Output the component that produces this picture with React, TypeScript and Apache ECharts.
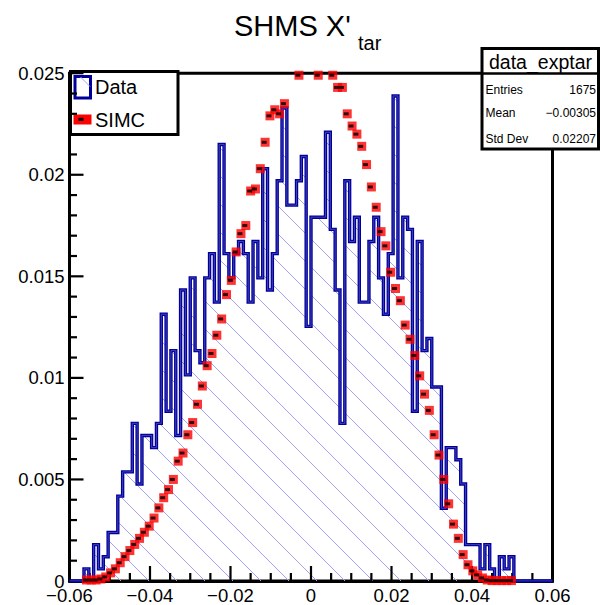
import React, { useEffect, useRef } from "react";
import * as echarts from "echarts";

// ---- axis / binning ----
const X_MIN = -0.06;
const X_MAX = 0.06;
const Y_MAX = 0.025;
const N_BINS = 100;
const ENTRIES = 1675;

// ---- Data histogram: entries per bin (normalised by ENTRIES) ----
const dataCounts = [
  0, 0, 0, 1, 0, 3, 1, 2, 4, 4,
  7, 9, 9, 13, 8, 12, 12, 11, 13, 22,
  14, 19, 12, 24, 17, 25, 19, 18, 25, 27,
  23, 36, 27, 25, 27, 28, 27, 23, 28, 25,
  34, 24, 27, 33, 39, 31, 31, 33, 35, 21,
  30, 30, 30, 37, 29, 24, 13, 33, 28, 30,
  23, 23, 28, 30, 25, 22, 27, 40, 25, 30,
  29, 14, 28, 19, 20, 16, 16, 6, 11, 11,
  10, 8, 3, 3, 3, 1, 3, 1, 0, 2,
  1, 2, 0, 0, 0, 0, 0, 0, 0, 0,
];

// ---- SIMC histogram values per bin (null = no marker) ----
const simcValues: (number | null)[] = [
  null, null, null, 0.00005, 0.00005, 0.00005, 0.0001, 0.0002, 0.0004, 0.0006,
  0.0009, 0.0012, 0.0015, 0.0018, 0.0021, 0.0024, 0.0027, 0.0031, 0.0036, 0.0041,
  0.0045, 0.005, 0.0059, 0.0063, 0.0072, 0.0078, 0.0087, 0.0096, 0.0106, 0.0112,
  0.0121, 0.0129, 0.0141, 0.0148, 0.0162, 0.0171, 0.0175, 0.0192, 0.0193, 0.0203,
  0.0216, 0.0229, 0.0232, 0.023, 0.0235, 0.0254, 0.0256, 0.0249, 0.0257, 0.0258,
  0.0255, 0.0249, 0.0253, 0.0252, 0.0249, 0.0243, 0.0243, 0.023, 0.0224, 0.022,
  0.0214, 0.0205, 0.0194, 0.0184, 0.0172, 0.0165, 0.0152, 0.0144, 0.0138, 0.0126,
  0.0119, 0.0111, 0.0101, 0.0092, 0.0084, 0.0072, 0.0062, 0.005, 0.0038, 0.0028,
  0.0021, 0.0013, 0.0008, 0.0005, 0.0003, 0.00015, 0.00005, 0.00002, 0.00002, 0.00002,
  0.00002, 0.00002, null, null, null, null, null, null, null, null,
];

const xTickValues = [-0.06, -0.04, -0.02, 0, 0.02, 0.04, 0.06];
const yTickValues = [0, 0.005, 0.01, 0.015, 0.02, 0.025];
const X_MINOR_DIV = 4;
const Y_MINOR_DIV = 5;

const statsTitle = "data_exptar";
const statsRows = [
  ["Entries", "1675"],
  ["Mean", "\u22120.00305"],
  ["Std Dev", "0.02207"],
];

const FONT = '"Liberation Sans", Arial, Helvetica, sans-serif';
const HATCH_STEP = 28;
const HATCH_K0 = 68;

const binW = (X_MAX - X_MIN) / N_BINS;
const edge = (i: number) => X_MIN + i * binW;
const center = (i: number) => X_MIN + (i + 0.5) * binW;
const dataValues = dataCounts.map((c) => c / ENTRIES);

function buildStep(): number[][] {
  const pts: number[][] = [[X_MIN, 0]];
  dataValues.forEach((v, i) => {
    pts.push([edge(i), v]);
    pts.push([edge(i + 1), v]);
  });
  pts.push([X_MAX, 0]);
  return pts;
}

function fmtX(v: number) {
  if (Math.abs(v) < 1e-9) return "0";
  return (v < 0 ? "\u2212" : "") + Math.abs(v).toFixed(2);
}
function fmtY(v: number) {
  if (Math.abs(v) < 1e-12) return "0";
  return String(parseFloat(v.toFixed(3)));
}

function hatchRender(_params: any, api: any) {
  const base = api.coord([X_MIN, 0])[1];
  const bins = dataValues.map((v, i) => ({
    v,
    xl: api.coord([edge(i), 0])[0],
    xr: api.coord([edge(i + 1), 0])[0],
    top: api.coord([X_MIN, v])[1],
  }));
  const children: any[] = [];
  for (let n = -25; n <= 25; n++) {
    const k = HATCH_K0 + n * HATCH_STEP;
    let cur: { a: number; b: number } | null = null;
    const flush = () => {
      if (cur) {
        children.push({
          type: "line",
          shape: { x1: cur.a, y1: cur.a + k, x2: cur.b, y2: cur.b + k },
          style: { stroke: "#a3a3f2", lineWidth: 1 },
          silent: true,
        });
        cur = null;
      }
    };
    for (const b of bins) {
      if (b.v <= 0) {
        flush();
        continue;
      }
      const a = Math.max(b.xl, b.top - k);
      const e = Math.min(b.xr, base - k);
      if (a < e) {
        if (cur && Math.abs(cur.b - a) < 0.05) cur.b = e;
        else {
          flush();
          cur = { a, b: e };
        }
      } else flush();
    }
    flush();
  }
  return { type: "group", children };
}

// inward ROOT-style ticks, placed through the axes' scales
function ticksRender(_params: any, api: any) {
  const children: any[] = [];
  const [x0, y0] = api.coord([X_MIN, 0]);
  const tick = (x1: number, y1: number, x2: number, y2: number) =>
    children.push({
      type: "line",
      shape: { x1, y1, x2, y2 },
      style: { stroke: "#000", lineWidth: 2.2 },
      silent: true,
    });
  for (let i = 0; i < xTickValues.length; i++) {
    const v = xTickValues[i];
    const px = api.coord([v, 0])[0];
    tick(px, y0, px, y0 - 15);
    if (i < xTickValues.length - 1) {
      const step = (xTickValues[i + 1] - v) / X_MINOR_DIV;
      for (let m = 1; m < X_MINOR_DIV; m++) {
        const mx = api.coord([v + m * step, 0])[0];
        tick(mx, y0, mx, y0 - 8);
      }
    }
  }
  for (let i = 0; i < yTickValues.length; i++) {
    const v = yTickValues[i];
    const py = api.coord([X_MIN, v])[1];
    tick(x0, py, x0 + 14, py);
    if (i < yTickValues.length - 1) {
      const step = (yTickValues[i + 1] - v) / Y_MINOR_DIV;
      for (let m = 1; m < Y_MINOR_DIV; m++) {
        const my = api.coord([X_MIN, v + m * step])[1];
        tick(x0, my, x0 + 7.5, my);
      }
    }
  }
  return { type: "group", children };
}

export default function App() {
  const ref = useRef<HTMLDivElement>(null);
  useEffect(() => {
    document.body.style.margin = "0";
    const chart = echarts.init(ref.current!, undefined, { renderer: "svg" });
    const step = buildStep();
    const simcPts = simcValues
      .map((v, i) => (v != null && v <= Y_MAX ? [center(i), v] : null))
      .filter((p) => p !== null) as number[][];

    const option: any = {
      animation: false,
      backgroundColor: "#ffffff",
      grid: {
        left: 69.5,
        right: 47.5,
        top: 73.2,
        bottom: 23.3,
        show: true,
        borderColor: "#000",
        borderWidth: 3,
        backgroundColor: "transparent",
      },
      xAxis: {
        type: "value",
        min: xTickValues[0],
        max: xTickValues[xTickValues.length - 1],
        interval: 0.02,
        axisLine: { show: true, onZero: false, lineStyle: { color: "#000", width: 3 } },
        splitLine: { show: false },
        axisTick: { show: false },
        minorTick: { show: false },
        axisLabel: {
          color: "#000",
          fontSize: 18.5,
          fontFamily: FONT,
          margin: 5,
          formatter: fmtX,
          showMinLabel: true,
          showMaxLabel: true,
        },
      },
      yAxis: {
        type: "value",
        min: yTickValues[0],
        max: yTickValues[yTickValues.length - 1],
        interval: 0.005,
        axisLine: { show: true, onZero: false, lineStyle: { color: "#000", width: 3 } },
        splitLine: { show: false },
        axisTick: { show: false },
        minorTick: { show: false },
        axisLabel: {
          color: "#000",
          fontSize: 18.5,
          fontFamily: FONT,
          margin: 5,
          formatter: fmtY,
          showMinLabel: true,
          showMaxLabel: true,
        },
      },
      series: [
        {
          type: "custom",
          name: "hatch",
          coordinateSystem: "cartesian2d",
          data: [[0, 0]],
          renderItem: hatchRender,
          silent: true,
          z: 1,
        },
        {
          type: "custom",
          name: "ticks",
          coordinateSystem: "cartesian2d",
          data: [[0, 0]],
          renderItem: ticksRender,
          silent: true,
          clip: false,
          z: 2,
        },
        {
          type: "line",
          name: "Data",
          data: step,
          symbol: "none",
          showSymbol: false,
          lineStyle: { color: "#000099", width: 3.4, join: "miter" },
          z: 3,
        },
        {
          type: "line",
          name: "Data-inner",
          data: step,
          symbol: "none",
          showSymbol: false,
          lineStyle: { color: "#5050c4", width: 0.8, join: "miter" },
          z: 4,
        },
        {
          type: "scatter",
          name: "SIMC",
          data: simcPts,
          symbol: "rect",
          symbolSize: 9,
          clip: false,
          itemStyle: { color: "#ff0000" },
          z: 5,
        },
        {
          type: "scatter",
          name: "SIMC-mark",
          data: simcPts,
          symbol: "rect",
          symbolSize: [5, 3],
          symbolOffset: [-1, 0],
          clip: false,
          itemStyle: { color: "#000" },
          z: 6,
        },
      ],
      graphic: [
        // title
        {
          type: "text",
          left: 234,
          top: 11,
          style: { text: "SHMS X'", font: `29px ${FONT}`, fill: "#000" },
          z: 10,
        },
        {
          type: "text",
          left: 358,
          top: 33,
          style: { text: "tar", font: `20px ${FONT}`, fill: "#000" },
          z: 10,
        },
        // legend
        {
          type: "group",
          z: 20,
          children: [
            {
              type: "rect",
              shape: { x: 70.5, y: 71.5, width: 107.5, height: 63 },
              style: { fill: "#fff", stroke: "#000", lineWidth: 3 },
            },
            {
              type: "rect",
              shape: { x: 75, y: 76.5, width: 15.5, height: 21.5 },
              style: { fill: "none", stroke: "#000099", lineWidth: 3 },
            },
            {
              type: "line",
              shape: { x1: 80.5, y1: 77, x2: 90, y2: 86.5 },
              style: { stroke: "#a3a3f2", lineWidth: 1 },
            },
            {
              type: "text",
              x: 95,
              y: 87,
              style: { text: "Data", font: `20px ${FONT}`, fill: "#000", verticalAlign: "middle" },
            },
            {
              type: "rect",
              shape: { x: 73.5, y: 114.5, width: 18, height: 10 },
              style: { fill: "#ff0000" },
            },
            {
              type: "rect",
              shape: { x: 78.5, y: 117.8, width: 5, height: 3 },
              style: { fill: "#000" },
            },
            {
              type: "text",
              x: 95,
              y: 119.5,
              style: { text: "SIMC", font: `20px ${FONT}`, fill: "#000", verticalAlign: "middle" },
            },
          ],
        },
        // stats box
        {
          type: "group",
          z: 20,
          children: [
            {
              type: "rect",
              shape: { x: 482, y: 48.5, width: 116.5, height: 100.5 },
              style: { fill: "#fff", stroke: "#000", lineWidth: 3 },
            },
            {
              type: "line",
              shape: { x1: 482, y1: 73.5, x2: 598.5, y2: 73.5 },
              style: { stroke: "#000", lineWidth: 2.5 },
            },
            {
              type: "text",
              x: 540.5,
              y: 61.5,
              style: {
                text: statsTitle,
                font: `19.5px ${FONT}`,
                fill: "#000",
                align: "center",
                verticalAlign: "middle",
              },
            },
            ...statsRows.flatMap((row, r) => [
              {
                type: "text",
                x: 485.5,
                y: [90, 113, 138.5][r],
                style: { text: row[0], font: `12px ${FONT}`, fill: "#000", verticalAlign: "middle" },
              },
              {
                type: "text",
                x: 596,
                y: [90, 113, 138.5][r],
                style: {
                  text: row[1],
                  font: `12px ${FONT}`,
                  fill: "#000",
                  align: "right",
                  verticalAlign: "middle",
                },
              },
            ]),
          ],
        },
      ],
    };
    chart.setOption(option);
    return () => chart.dispose();
  }, []);
  return <div ref={ref} style={{ width: 600, height: 605 }} />;
}
